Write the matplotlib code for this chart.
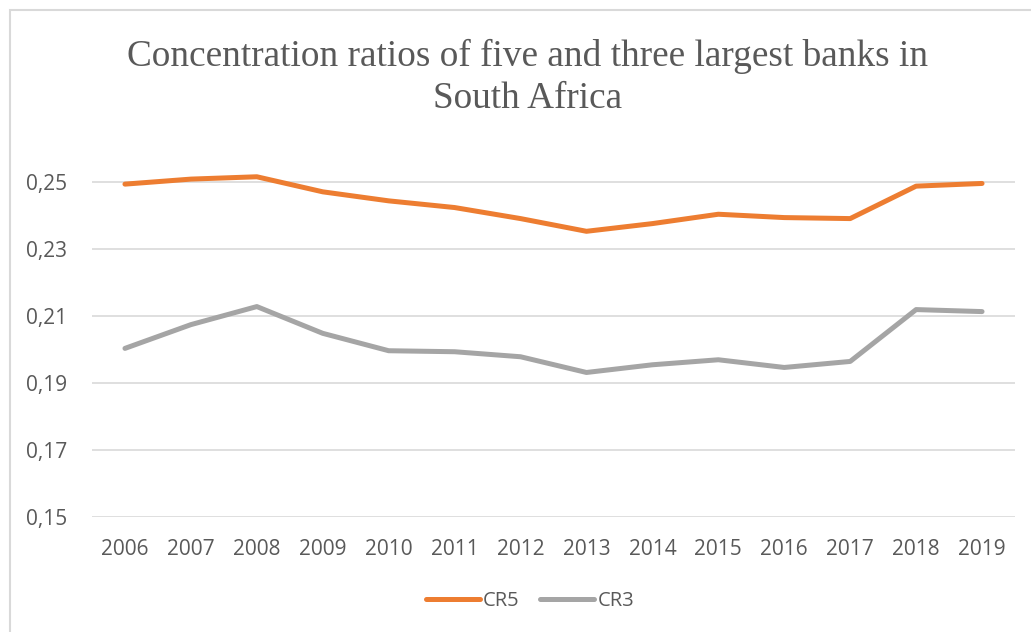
import matplotlib
matplotlib.use("Agg")
import matplotlib.pyplot as plt
from matplotlib.patches import Rectangle
from matplotlib.ticker import FuncFormatter

years = ["2006", "2007", "2008", "2009", "2010", "2011", "2012",
         "2013", "2014", "2015", "2016", "2017", "2018", "2019"]
cr5 = [0.2495, 0.2510, 0.2517, 0.2472, 0.2445, 0.2425, 0.2392,
       0.2354, 0.2377, 0.2405, 0.2395, 0.2392, 0.2489, 0.2497]
cr3 = [0.2004, 0.2075, 0.2129, 0.2049, 0.1997, 0.1994, 0.1979,
       0.1932, 0.1955, 0.1970, 0.1947, 0.1965, 0.2120, 0.2114]
yticks = [0.15, 0.17, 0.19, 0.21, 0.23, 0.25]
title_lines = ["Concentration ratios of five and three largest banks in", "South Africa"]

txt = "#595959"
fig = plt.figure(figsize=(10.31, 6.32), dpi=100)
ax = fig.add_axes([92/1031, 1-517/632, (1015-92)/1031, (517-149)/632])

x = list(range(len(years)))
ax.plot(x, cr5, color="#ED7D31", lw=3.6, solid_capstyle="round",
        solid_joinstyle="round", label="CR5", zorder=3)
ax.plot(x, cr3, color="#A5A5A5", lw=3.6, solid_capstyle="round",
        solid_joinstyle="round", label="CR3", zorder=3)

ax.set_xlim(-0.5, len(years) - 0.5)
ax.set_ylim(0.15, 0.26)
ax.set_yticks(yticks)
ax.yaxis.set_major_formatter(FuncFormatter(lambda v, p: f"{v:.2f}".replace(".", ",")))
ax.set_xticks(x)
ax.set_xticklabels(years)
ax.grid(axis="y", color="#D9D9D9", lw=1.2)
ax.set_axisbelow(True)
for s in ax.spines.values():
    s.set_visible(False)
ax.tick_params(length=0, labelsize=15, labelcolor=txt)
ax.tick_params(axis="y", pad=18)
ax.tick_params(axis="x", pad=16)
for lab in ax.get_xticklabels() + ax.get_yticklabels():
    lab.set_family("Open Sans")

# title, one text per line so the baselines sit where they should
for line, base in zip(title_lines, [65.5, 107.5]):
    fig.text(0.5115, 1-base/632, line, ha="center", va="baseline",
             family="Liberation Serif", fontsize=26.8, color=txt)

leg = fig.legend(loc="center", bbox_to_anchor=(530/1031, 1-601/632), ncol=2,
                 frameon=False, handlelength=2.7, handletextpad=0.15,
                 columnspacing=1.0, prop={"family": "Open Sans", "size": 14.5})
for t in leg.get_texts():
    t.set_color(txt)
for h in leg.get_lines():
    h.set_linewidth(3.6)
    h.set_solid_capstyle("round")

# outer chart border
fig.patches.append(Rectangle((10/1031, -0.1), 1.2, 1.1 - 10/632,
                             transform=fig.transFigure, fill=False,
                             edgecolor="#D9D9D9", lw=1.5))

fig.savefig("out.png", dpi=100)
